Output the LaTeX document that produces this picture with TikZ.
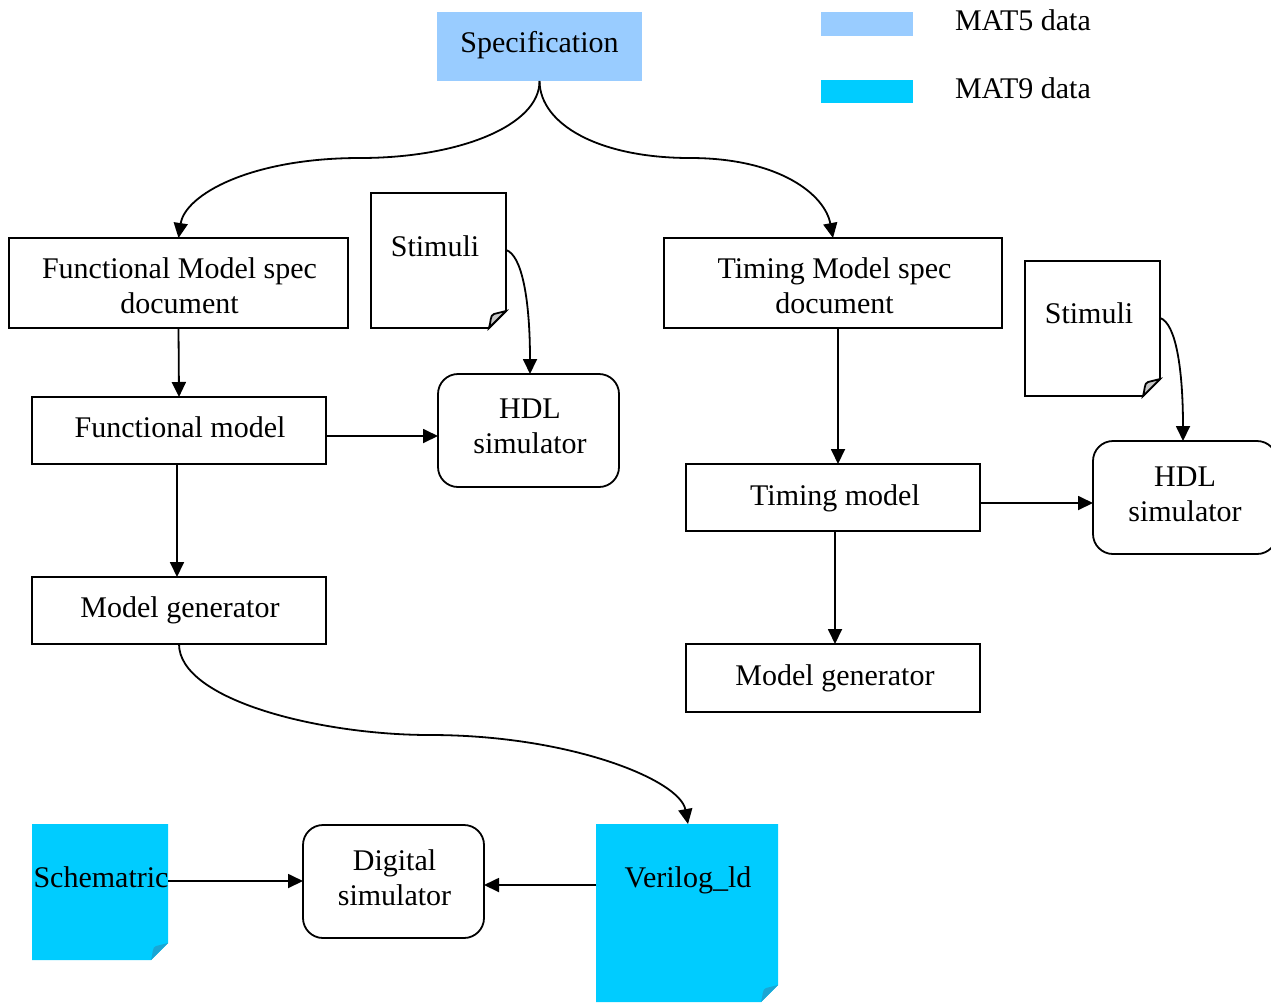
\documentclass[tikz,border=0pt]{standalone}
\usepackage{fontspec}
\setmainfont{Liberation Serif}
\usetikzlibrary{arrows.meta,calc}

\definecolor{matfive}{HTML}{99CCFF}
\definecolor{matnine}{HTML}{00CCFF}
\definecolor{matninefold}{HTML}{1AA6D4}
\definecolor{paperfold}{HTML}{C8C8C8}

% folded-corner document outline around a named (invisible) node
\newcommand\docpath[3]{%
  \path[#2] (#1.north west) -- (#1.north east) -- ([yshift=17pt]#1.south east)
    -- ([xshift=-17pt]#1.south east) -- (#1.south west) -- cycle;
  \path[#2,fill=#3] ([yshift=17pt]#1.south east) -- ([xshift=-17pt]#1.south east)
    .. controls ([xshift=-15pt,yshift=6pt]#1.south east) and ([xshift=-16pt,yshift=13pt]#1.south east)
    .. ([xshift=-12pt,yshift=14pt]#1.south east)
    .. controls ([xshift=-6pt,yshift=16pt]#1.south east) .. cycle;
}

\tikzset{
  every node/.style={inner sep=0pt, outer sep=0pt},
  box/.style={draw, line width=1.8pt, rectangle},
  rbox/.style={box, rounded corners=20pt},
  txt/.style={align=center},
  docnode/.style={rectangle, minimum width=135pt, minimum height=135pt},
  arr/.style={line width=1.8pt, -{Triangle[length=15pt,width=14pt]}},
}

\begin{document}
\begin{tikzpicture}[x=1pt,y=-1pt,font=\fontsize{30}{35}\selectfont]
\useasboundingbox (0,0) rectangle (1271,1002);

% legend
\fill[matfive] (821,12) rectangle (913,36);
\fill[matnine] (821,80) rectangle (913,103);
\node[anchor=west] (leg5) at (955,20) {MAT5 data};
\node[anchor=west] (leg9) at (955,88) {MAT9 data};

% specification
\node[fill=matfive, minimum width=205pt, minimum height=69pt] (spec) at (539.5,46.5) {};
\node[txt] (spect) at (539.5,45) {Specification};

% functional branch
\node[box, minimum width=339pt, minimum height=90pt] (fspec) at (178.5,283) {};
\node[txt] (fspect) at (179.5,286) {Functional Model spec\\document};
\node[docnode] (stim1) at (438.5,260.5) {};
\docpath{stim1}{draw, line width=1.8pt, fill=white}{paperfold}
\node (stim1t) at (435,246) {Stimuli};
\node[rbox, minimum width=181pt, minimum height=113pt] (hdl1) at (528.5,430.5) {};
\node[txt] (hdl1t) at (530,426.5) {HDL\\simulator};
\node[box, minimum width=294pt, minimum height=67pt] (fmodel) at (179,430.5) {};
\node[txt] (fmodelt) at (180,427.5) {Functional model};
\node[box, minimum width=294pt, minimum height=67pt] (mgen1) at (179,610.5) {};
\node[txt] (mgen1t) at (180,610.5) {Model generator};

% timing branch
\node[box, minimum width=338pt, minimum height=90pt] (tspec) at (833,283) {};
\node[txt] (tspect) at (834.5,286) {Timing Model spec\\document};
\node[docnode] (stim2) at (1092.5,328.5) {};
\docpath{stim2}{draw, line width=1.8pt, fill=white}{paperfold}
\node (stim2t) at (1089,313) {Stimuli};
\node[rbox, minimum width=184pt, minimum height=113pt] (hdl2) at (1185,497.5) {};
\node[txt] (hdl2t) at (1185,494.5) {HDL\\simulator};
\node[box, minimum width=294pt, minimum height=67pt] (tmodel) at (833,497.5) {};
\node[txt] (tmodelt) at (835,498.5) {Timing model};
\node[box, minimum width=294pt, minimum height=68pt] (mgen2) at (833,678) {};
\node[txt] (mgen2t) at (835,678) {Model generator};

% bottom row
\node[docnode, minimum width=136pt, minimum height=136pt] (schem) at (100,892) {};
\docpath{schem}{fill=matnine}{matninefold}
\node (schemt) at (101,877) {Schematric};
\node[rbox, minimum width=181pt, minimum height=113pt] (dsim) at (393.5,881.5) {};
\node[txt] (dsimt) at (394.5,877.5) {Digital\\simulator};
\node[docnode, minimum width=182pt, minimum height=178pt] (veri) at (687,913) {};
\docpath{veri}{fill=matnine}{matninefold}
\node (verit) at (688,880) {Verilog\_ld};

% connectors
\draw[arr] (spec.south) .. controls (540,125) and (460,158) .. (360,158)
  .. controls (250,158) and (185,195) .. (fspec.north);
\draw[arr] (spec.south) .. controls (540,125) and (600,158) .. (690,158)
  .. controls (780,158) and (825,195) .. (tspec.north);

\coordinate (s1) at (stim1.east |- 0,250);
\draw[arr] (s1) .. controls (522,255) and (530,300) .. ([xshift=1.5pt]hdl1.north);
\coordinate (s2) at (stim2.east |- 0,318);
\draw[arr] (s2) .. controls (1176,323) and (1183,370) .. ([xshift=-2pt]hdl2.north);

\draw[arr] (fspec.south) -- (fmodel.north);
\coordinate (c1) at ([yshift=-5.5pt]fmodel.east);
\draw[arr] (c1) -- (c1 -| hdl1.west);
\draw[arr] ([xshift=-2pt]fmodel.south) -- ([xshift=-2pt]mgen1.north);

\draw[arr] ([xshift=5pt]tspec.south) -- ([xshift=5pt]tmodel.north);
\coordinate (c2) at ([yshift=-5.5pt]tmodel.east);
\draw[arr] (c2) -- (c2 -| hdl2.west);
\draw[arr] ([xshift=2pt]tmodel.south) -- ([xshift=2pt]mgen2.north);

\draw[arr] (mgen1.south) .. controls (179,700) and (320,735) .. (430,735)
  .. controls (570,735) and (680,780) .. ([xshift=1pt]veri.north);

\coordinate (c3) at (schem.east |- 0,881);
\draw[arr] (c3) -- (c3 -| dsim.west);
\coordinate (c4) at (veri.west |- 0,885);
\draw[arr] (c4) -- (c4 -| dsim.east);
\end{tikzpicture}
\end{document}
